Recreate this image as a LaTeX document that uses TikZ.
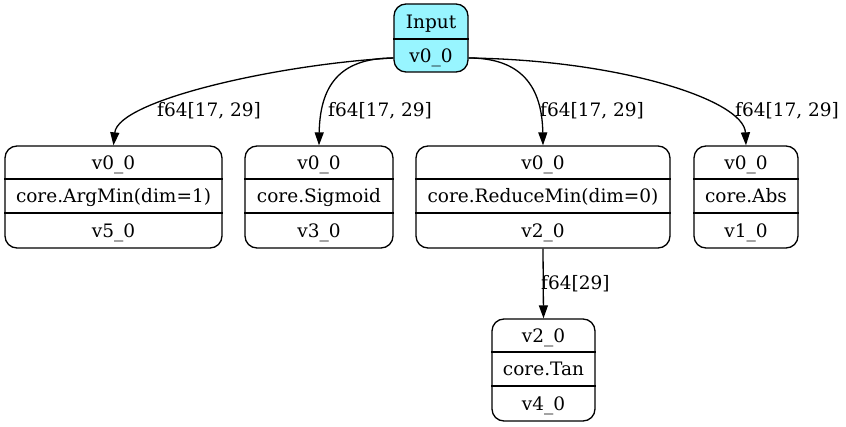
\documentclass[tikz,border=0pt]{standalone}
\usepackage{fontspec}
\setmainfont{DejaVu Serif}
\usetikzlibrary{arrows.meta}
\definecolor{inputcyan}{HTML}{98F5FF}
\begin{document}
\begin{tikzpicture}[x=1pt,y=-1pt,
  rec/.style={draw, line width=1.3pt, rounded corners=12pt, inner sep=0pt},
  txt/.style={inner sep=0pt, text height=16pt, text depth=2pt, font=\fontsize{18.5}{22}\selectfont},
  lbl/.style={txt, anchor=west},
  div/.style={line width=1.2pt},
  edge/.style={line width=1.3pt, -{Triangle[length=13pt,width=9pt]}}]
\useasboundingbox[fill=white] (0,0) rectangle (846,427);

% Input
\node[rec, fill=inputcyan, minimum width=74pt, minimum height=68pt] (in) at (431,38) {};
\draw[div] (in.west |- 0,39) -- (in.east |- 0,39);
\node[txt] (ina) at (431,21.5) {Input};
\node[txt] (inb) at (431,55.5) {v0\_0};

% n1
\node[rec, minimum width=217pt, minimum height=102pt] (n1) at (113.5,197) {};
\draw[div] (n1.west |- 0,179) -- (n1.east |- 0,179);
\draw[div] (n1.west |- 0,213) -- (n1.east |- 0,213);
\node[txt] (n1a) at (113.5,162.5) {v0\_0};
\node[txt] (n1b) at (113.5,196) {core.ArgMin(dim=1)};
\node[txt] (n1c) at (113.5,230.5) {v5\_0};

% n2
\node[rec, minimum width=148pt, minimum height=102pt] (n2) at (319,197) {};
\draw[div] (n2.west |- 0,179) -- (n2.east |- 0,179);
\draw[div] (n2.west |- 0,213) -- (n2.east |- 0,213);
\node[txt] (n2a) at (319,162.5) {v0\_0};
\node[txt] (n2b) at (319,196) {core.Sigmoid};
\node[txt] (n2c) at (319,230.5) {v3\_0};

% n3
\node[rec, minimum width=254pt, minimum height=102pt] (n3) at (543,197) {};
\draw[div] (n3.west |- 0,179) -- (n3.east |- 0,179);
\draw[div] (n3.west |- 0,213) -- (n3.east |- 0,213);
\node[txt] (n3a) at (543,162.5) {v0\_0};
\node[txt] (n3b) at (543,196) {core.ReduceMin(dim=0)};
\node[txt] (n3c) at (543,230.5) {v2\_0};

% n4
\node[rec, minimum width=104pt, minimum height=102pt] (n4) at (746,197) {};
\draw[div] (n4.west |- 0,179) -- (n4.east |- 0,179);
\draw[div] (n4.west |- 0,213) -- (n4.east |- 0,213);
\node[txt] (n4a) at (746,162.5) {v0\_0};
\node[txt] (n4b) at (746,196) {core.Abs};
\node[txt] (n4c) at (746,230.5) {v1\_0};

% n5
\node[rec, minimum width=103pt, minimum height=102pt] (n5) at (543.5,370) {};
\draw[div] (n5.west |- 0,352) -- (n5.east |- 0,352);
\draw[div] (n5.west |- 0,386) -- (n5.east |- 0,386);
\node[txt] (n5a) at (543.5,335.5) {v2\_0};
\node[txt] (n5b) at (543.5,369) {core.Tan};
\node[txt] (n5c) at (543.5,403.5) {v4\_0};

% edges
\draw[edge] ([yshift=-20pt]in.west) .. controls (280,64) and (118,100) .. (n1.north);
\draw[edge] ([yshift=-20pt]in.west) .. controls (345,58) and (320,80) .. (n2.north);
\draw[edge] ([yshift=-20pt]in.east) .. controls (515,58) and (542,80) .. (n3.north);
\draw[edge] ([yshift=-20pt]in.east) .. controls (620,60) and (744,100) .. (n4.north);
\draw[edge] (n3.south) -- (n5.north);

% labels
\node[lbl] (l1) at (157,110) {f64[17, 29]};
\node[lbl] (l2) at (328,110) {f64[17, 29]};
\node[lbl] (l3) at (540,110) {f64[17, 29]};
\node[lbl] (l4) at (735,110) {f64[17, 29]};
\node[lbl] (l5) at (541,283) {f64[29]};
\end{tikzpicture}
\end{document}
